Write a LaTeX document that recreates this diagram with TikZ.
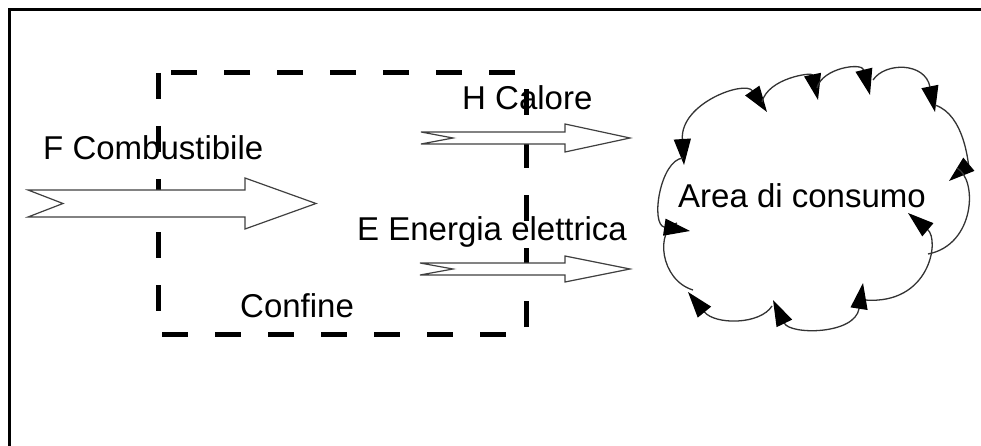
\documentclass[tikz,border=0pt]{standalone}
\usepackage{fontspec}
\setmainfont{Liberation Sans}
\usetikzlibrary{arrows.meta}

\begin{document}
\begin{tikzpicture}[
    x=1pt, y=1pt,
    lbl/.style={anchor=base west, inner sep=0pt, font=\fontsize{33}{40}\selectfont},
    flow/.style={draw=black!75, fill=white, line width=1.2pt, line join=miter},
    boundary/.style={line width=5pt, dash pattern=on 26pt off 27pt},
    cloudarc/.style={draw=black!80, line width=1.3pt},
    endtip/.style={-{Triangle[length=26pt, width=17pt, black]}},
    bothtips/.style={{Triangle[length=26pt, width=17pt, black]}-{Triangle[length=26pt, width=17pt, black]}},
]
    \useasboundingbox (0,0) rectangle (981,445);
    \clip (0,0) rectangle (981,445);

    % Frame
    \draw[line width=3pt] (9,-20) -- (9,435) -- (1000,435);

    % Confine (dashed boundary)
    \draw[boundary] (158,372) rectangle (526,111);
    \node[lbl] (confine) at (240,128) {Confine};

    % Fuel in
    \draw[flow] (28,255) -- (245,255) -- (245,267) -- (316,241.5) -- (245,216)
        -- (245,228) -- (28,228) -- (63,241.5) -- cycle;
    \node[lbl] (fuel) at (43,285) {F Combustibile};

    % Heat out
    \draw[flow] (421,313) -- (565,313) -- (565,321) -- (630,307) -- (565,293)
        -- (565,301) -- (421,301) -- (453,307) -- cycle;
    \node[lbl] (heat) at (462,335) {H Calore};

    % Electricity out
    \draw[flow] (420,182) -- (565,182) -- (565,189) -- (630,176) -- (565,163)
        -- (565,170) -- (420,170) -- (453,176) -- cycle;
    \node[lbl] (power) at (357,205) {E Energia elettrica};

    % Area di consumo (cloud)
    \draw[cloudarc, bothtips] (684,280) .. controls (680,342) and (745,365) .. (767,333);
    \draw[cloudarc, endtip] (762,343) .. controls (768,367) and (812,373) .. (818,345);
    \draw[cloudarc, endtip] (817,357) .. controls (822,377) and (862,383) .. (870,350);
    \draw[cloudarc, endtip] (873,365) .. controls (885,383) and (925,383) .. (935,333);
    \draw[cloudarc, endtip] (935,340) .. controls (965,330) and (968,280) .. (949,264);
    \draw[cloudarc] (957,277) .. controls (978,265) and (975,200) .. (928,191);
    \draw[cloudarc, endtip] (865,145) .. controls (930,140) and (940,205) .. (908,232);
    \draw[cloudarc, bothtips] (773,145) .. controls (790,110) and (855,110) .. (863,162);
    \draw[cloudarc, endtip] (772,139) .. controls (760,120) and (715,120) .. (688,153);
    \draw[cloudarc] (693,155) .. controls (660,165) and (655,215) .. (677,222);
    \draw[cloudarc, endtip] (683,287) .. controls (660,285) and (650,220) .. (690,214);
    \node[lbl] (area) at (678,238) {Area di consumo};
\end{tikzpicture}
\end{document}
